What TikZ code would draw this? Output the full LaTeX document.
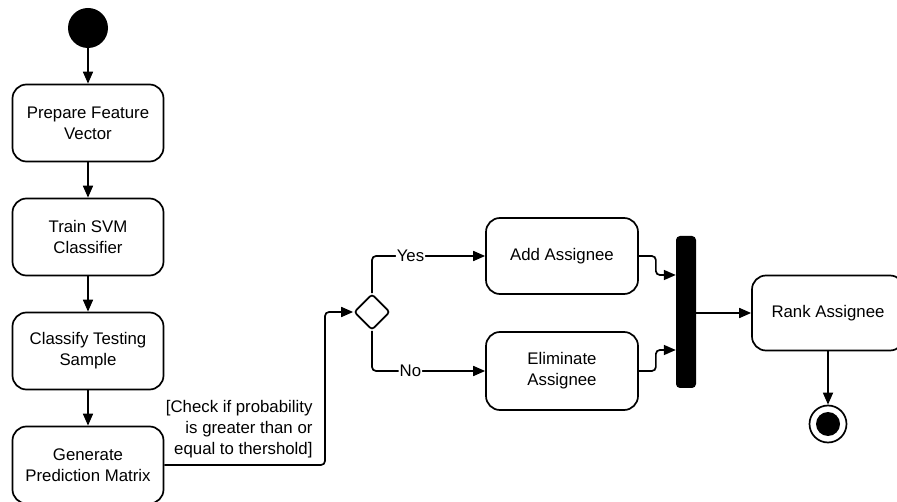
\documentclass[tikz,border=0pt]{standalone}
\usepackage{fontspec}
\setmainfont{Liberation Sans}
\usetikzlibrary{arrows.meta,shapes.geometric}
\begin{document}
\begin{tikzpicture}[x=1pt,y=-1pt,
  every node/.style={font=\fontsize{16.8}{21}\selectfont},
  action/.style={draw, line width=1.7pt, rounded corners=14pt,
    minimum width=151pt, minimum height=77pt, align=center, inner sep=2pt},
  flow/.style={line width=1.7pt, -{Triangle[length=12pt,width=10pt]},
    rounded corners=4pt},
  guardlabel/.style={fill=white, inner sep=1pt},
  decision/.style={diamond, draw, line width=1.7pt, rounded corners=3pt,
    minimum width=36pt, minimum height=36pt, inner sep=0pt},
  joinbar/.style={fill=black, rounded corners=4pt, minimum width=20pt,
    minimum height=152pt, inner sep=0pt},
]
\useasboundingbox (0,0) rectangle (897,502);

% initial node
\node[circle, fill=black, minimum size=40pt, inner sep=0pt] (start) at (88,28) {};

% left column of actions
\node[action] (n1) at (88,123) {Prepare Feature\\Vector};
\node[action] (n2) at (88,237) {Train SVM\\Classifier};
\node[action] (n3) at (88,351) {Classify Testing\\Sample};
\node[action] (n4) at (88,465) {Generate\\Prediction Matrix};

% decision and branches
\node[decision] (dec) at (372,312) {};
\node[action, minimum width=152pt, minimum height=76pt] (add) at (562,256) {Add Assignee};
\node[action, minimum width=152pt, minimum height=78pt] (elim) at (562,371) {Eliminate\\Assignee};

% join bar, final action, final node
\node[joinbar] (bar) at (686,312) {};
\node[action, minimum width=152pt, minimum height=75pt] (rank) at (828,313) {Rank Assignee};
\node[circle, draw, line width=1.7pt, minimum size=37pt, inner sep=0pt] (end) at (828,424) {};
\fill (end.center) circle (12pt);

% guard text
\node[anchor=east, align=right] (guard) at (316,429)
  {[Check if probability\\is greater than or\\equal to thershold]};

% connectors
\draw[flow] (start) -- (n1);
\draw[flow] (n1) -- (n2);
\draw[flow] (n2) -- (n3);
\draw[flow] (n3) -- (n4);
\coordinate (c1) at (325,312);
\draw[flow] (n4.east) -| (c1) -- (dec.west);
\draw[flow] (dec.north) |- node[guardlabel, pos=0.67] {Yes} (add.west);
\draw[flow] (dec.south) |- node[guardlabel, pos=0.67] {No} (elim.west);
\draw[flow] (add.east) -- ++(17,0) |- ([yshift=37pt]bar.west);
\draw[flow] (elim.east) -- ++(17,0) |- ([yshift=-38pt]bar.west);
\draw[flow] (bar.east |- rank.west) -- (rank.west);
\draw[flow] (rank) -- (end);
\end{tikzpicture}
\end{document}
